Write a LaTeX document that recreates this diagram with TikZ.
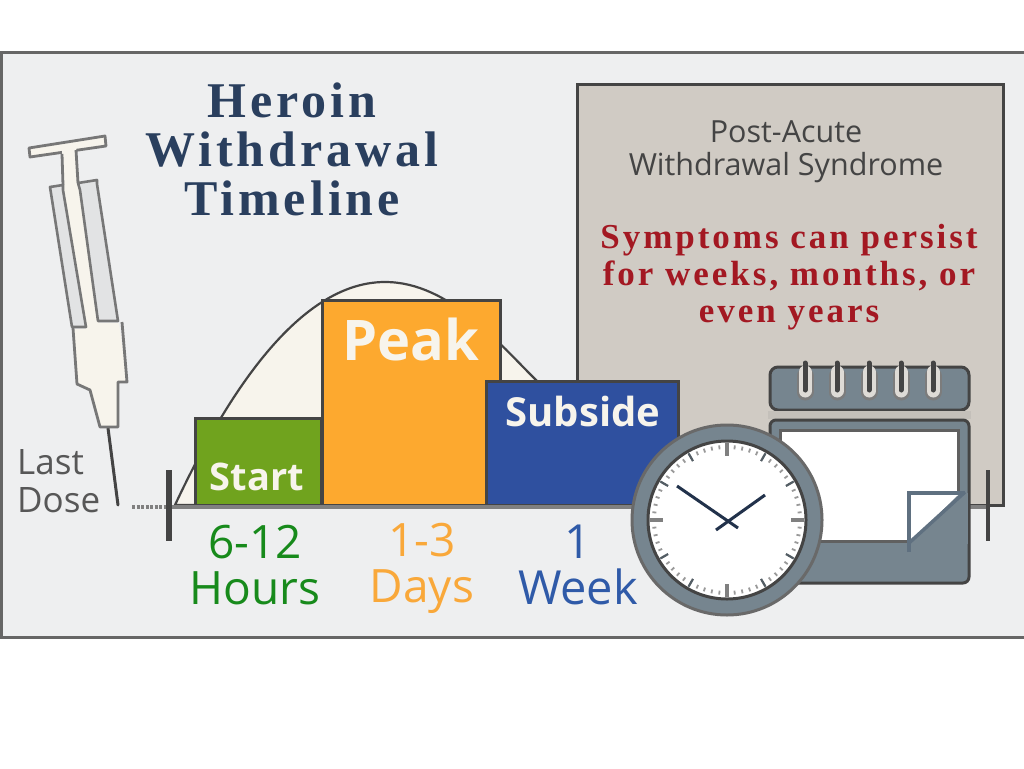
\documentclass[tikz,border=0pt]{standalone}
\usepackage{fontspec}
\usetikzlibrary{calc}
\setmainfont{Open Sans}
\newfontfamily\titlefont[LetterSpace=8,BoldFont={Liberation Serif Bold}]{Liberation Serif}
\newfontfamily\redfont[LetterSpace=8.5,BoldFont={Liberation Serif Bold}]{Liberation Serif}
\definecolor{panel}{HTML}{EEEFF0}
\definecolor{frameg}{HTML}{666666}
\definecolor{taupe}{HTML}{D0CBC4}
\definecolor{ink}{HTML}{444444}
\definecolor{cream}{HTML}{F7F4EC}
\definecolor{navy}{HTML}{2A3F5E}
\definecolor{blood}{HTML}{A31822}
\definecolor{gstart}{HTML}{70A31E}
\definecolor{ostart}{HTML}{FDA92F}
\definecolor{bstart}{HTML}{2F509F}
\definecolor{slate}{HTML}{76858F}
\definecolor{hgreen}{HTML}{178A1B}
\definecolor{horange}{HTML}{F9A83A}
\definecolor{hblue}{HTML}{2F5AA8}
\definecolor{syrline}{HTML}{777777}
\tikzset{
 barbox/.style={draw=ink,line width=3pt,inner sep=0pt,outer sep=0pt,anchor=north west},
 syr/.style={draw=syrline,line width=2.8pt,fill=cream,line join=round},
 chan/.style={draw=syrline,line width=2.6pt,fill=panel!90!syrline,line join=round},
 lab/.style={inner sep=0pt,align=center,font=\fontsize{#1}{46}\selectfont},
 barlab/.style={inner sep=0pt,text=cream,font=\bfseries\fontsize{#1}{#1}\selectfont},
 titlelab/.style={inner sep=0pt,text=navy,font=\titlefont\bfseries\fontsize{50}{49}\selectfont,align=center},
 redlab/.style={inner sep=0pt,text=blood,font=\redfont\bfseries\fontsize{35}{37}\selectfont,align=center},
 pawslab/.style={inner sep=0pt,text=ink,font=\fontsize{30.5}{30.5}\selectfont},
}
\begin{document}
\begin{tikzpicture}[x=1pt,y=-1pt]
\useasboundingbox (0,0) rectangle (1024,768);
\fill[white] (0,0) rectangle (1024,768);
\draw[draw=frameg,fill=panel,line width=3pt] (1,53) rectangle (1028,637);
% title
\node[titlelab] (title) at (292,149) {Heroin\\Withdrawal\\Timeline};
% PAWS panel
\draw[draw=ink,fill=taupe,line width=3pt] (577,84) rectangle (1003,505);
\node[pawslab] (paws1) at (786,132) {Post-Acute};
\node[pawslab] (paws2) at (786,168) {Withdrawal Syndrome};
\node[redlab] (sym) at (789,277) {Symptoms can persist\\for weeks, months, or\\even years};
% curve
\fill[cream,draw=ink,line width=2.2pt] (175,505) .. controls (215,420) and (290,282) .. (385,282)
  .. controls (450,282) and (500,345) .. (540,384) -- (540,505) -- cycle;
% bars
\node[barbox,fill=gstart,minimum width=126pt,minimum height=87pt] (start) at (195,418) {};
\node[barbox,fill=ostart,minimum width=178pt,minimum height=205pt] (peak) at (322,300) {};
\node[barbox,fill=bstart,minimum width=192pt,minimum height=124pt] (subside) at (486,381) {};
\node[barlab=38] (tstart) at (257,477) {Start};
\node[barlab=56] (tpeak) at (411,339) {Peak};
\node[barlab=40] (tsub) at (583,411) {Subside};
% baseline
\coordinate (b0) at (169,507);
\coordinate (b1) at (988,507);
\coordinate (d0) at (132,507);
\draw[draw=gray,line width=3.5pt] (b0) -- (b1);
\draw[draw=gray,line width=3.5pt,dash pattern=on 3pt off 1.5pt] (d0) -- (b0);
\coordinate (t0a) at (169,470); \coordinate (t0b) at (169,541);
\coordinate (t1a) at (988,470); \coordinate (t1b) at (988,541);
\draw[draw=ink,line width=5.5pt] (t0a) -- (t0b);
\draw[draw=ink,line width=4.5pt] (t1a) -- (t1b);
% duration labels
\node[lab=46,text=hgreen] (h) at (255,565) {6-12\\Hours};
\node[lab=46,text=horange] (d) at (422,568) {1-3\\Days};
\node[lab=47,text=hblue] (w) at (578,565) {1\\Week};
\node[inner sep=0pt,text=ink!90,font=\fontsize{35}{38}\selectfont,align=left,anchor=west] (last) at (17,481) {Last\\Dose};
% syringe
\draw[ink,line width=3pt,line cap=round] (108,428) -- (118,505);
\path[syr] (29,148) -- (105,136) -- (106,146) -- (30,157) -- cycle;
\fill[cream] (62,150) -- (76,147) -- (80,186) -- (98,322) -- (122,322) -- (75,322) -- (62,190) -- cycle;
\draw[draw=syrline,line width=2.8pt] (62,154) -- (63,185) (76,150) -- (78,183);
\fill[cream] (63,187) -- (80,186) -- (100,330) -- (85,330) -- cycle;
\path[chan] (50,187) -- (63,185) -- (63,190) -- (86,327) -- (72,327) -- cycle;
\path[chan] (78,183) -- (97,180) -- (97,184) -- (118,321) -- (98,321) -- (80,190) -- cycle;
\fill[cream] (74,329) -- (86,329) -- (98,323) -- (119,323) -- (127,382) -- (118,382) -- (118,427) -- (100,427) -- (90,390) -- (77,384) -- cycle;
\draw[draw=syrline,line width=2.8pt,line join=round] (73,328) -- (77,384) -- (90,390) -- (100,427) -- (118,427) -- (118,382) -- (127,382) -- (122,322);
% calendar
\path[draw=ink,fill=slate,line width=3pt,rounded corners=8pt] (770,367) -- (969,367) -- (969,410) -- (770,410) -- cycle;
\fill[taupe!85!gray] (768,411) rectangle (971,419);
\path[draw=ink,fill=slate,line width=3pt,rounded corners=6pt] (770,420) -- (969,420) -- (969,583) -- (770,583) -- cycle;
\draw[draw=gray!75!black,fill=white,line width=3pt] (780,430) rectangle (958,541);
\fill[slate] (909,493) rectangle (968,544);
\fill[white] (911,495) -- (958,495) -- (911,541) -- cycle;
\draw[draw=slate!70!navy,line width=3.5pt] (909,552) -- (909,493) -- (965,493);
\draw[draw=slate!70!navy,line width=3.5pt] (909,543) -- (965,492);
\foreach \x in {805,837,869,901,933}{
  \draw[draw=ink!70,line width=17pt,line cap=round] (\x,376) -- (\x,392);
  \draw[draw=taupe!70!white,line width=13pt,line cap=round] (\x,372) -- (\x,391);
  \draw[draw=ink,line width=5pt,line cap=round] (\x,363) -- (\x,390);
}
% clock
\node[circle,draw=ink!80,fill=slate,line width=3pt,minimum size=190pt,inner sep=0pt] (clock) at (727,520) {};
\node[circle,draw=ink,fill=white,line width=3pt,minimum size=158pt,inner sep=0pt] (face) at (727,520) {};
\foreach \a in {0,6,...,354}{
  \draw[gray!80,line width=1.8pt] ($(727,520)+(\a:75)$) -- ($(727,520)+(\a:71)$);
}
\foreach \a in {0,30,...,330}{
  \draw[slate!70!black,line width=2.2pt] ($(727,520)+(\a:77)$) -- ($(727,520)+(\a:68)$);
}
\foreach \a in {0,90,180,270}{
  \draw[gray,line width=4pt] ($(727,520)+(\a:77)$) -- ($(727,520)+(\a:64)$);
}
\coordinate (hA) at (677,486); \coordinate (hB) at (738,528);
\coordinate (mA) at (765,495); \coordinate (mB) at (716,530);
\draw[draw=navy!80!black,line width=3pt] (hA) -- (hB);
\draw[draw=navy!80!black,line width=3pt] (mA) -- (mB);
\end{tikzpicture}
\end{document}
